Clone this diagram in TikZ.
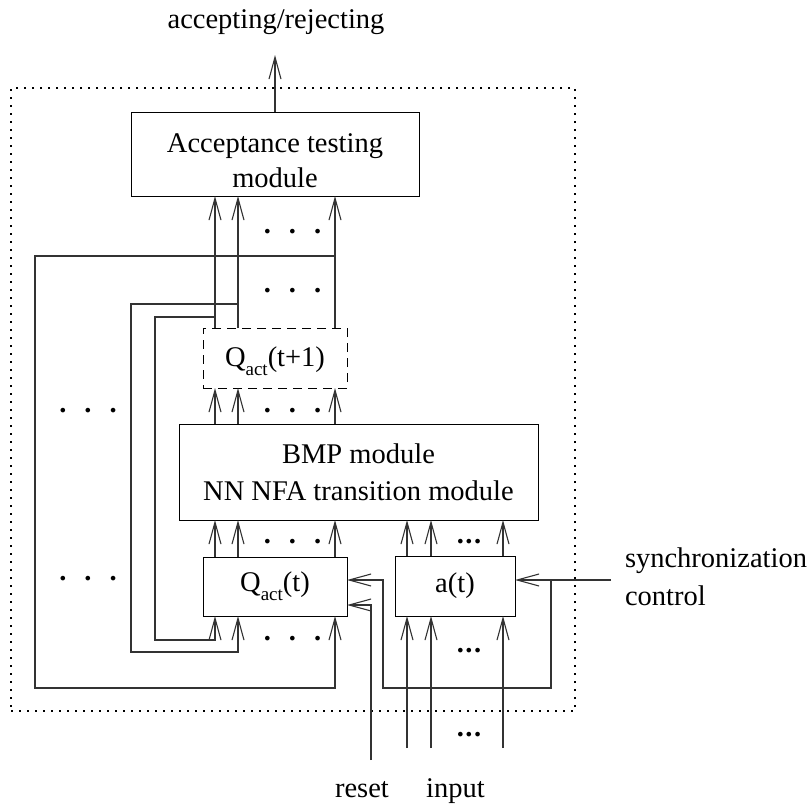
\documentclass[tikz,border=0pt]{standalone}
\usepackage{fontspec}
\setmainfont{Liberation Serif}
\usetikzlibrary{arrows.meta}
\newcommand{\spdots}{\bfseries.\hspace{18pt}.\hspace{18pt}.}
\newcommand{\cpdots}{\bfseries.\hspace{1.5pt}.\hspace{1.5pt}.}
\newcommand{\qact}{Q\raisebox{-9pt}{\fontsize{19}{19}\selectfont act}}
\begin{document}
\begin{tikzpicture}[x=1pt,y=-1pt,
  every node/.style={inner sep=0pt, outer sep=0pt, font=\fontsize{28.5}{35}\selectfont},
  box/.style={draw, line width=1pt, align=center},
  arr/.style={-{Straight Barb[length=22pt,width=12pt]}, line width=1.1pt, draw=black!80},
  dotsl/.style={anchor=base},
  frm/.style={draw, line width=1.1pt, dash pattern=on 1.6pt off 6.4pt}
]
\useasboundingbox (0,0) rectangle (812,807);

% frame
\node[frm, minimum width=564pt, minimum height=623pt] (frame) at (293,399.5) {};

% boxes
\node[box, minimum width=288pt, minimum height=84pt] (acc) at (275,154) {\rule{0pt}{33pt}Acceptance testing\\module};
\node[box, dash pattern=on 9pt off 6pt, minimum width=144pt, minimum height=60pt] (qn) at (275,358) {\rule{0pt}{26pt}\qact(t+1)};
\node[box, minimum width=359pt, minimum height=96pt, font=\fontsize{28.5}{37}\selectfont] (bmp) at (358.5,472) {BMP module\\NN NFA transition module};
\node[box, minimum width=144pt, minimum height=59pt] (qt) at (275,586.5) {\qact(t)};
\node[box, minimum width=120pt, minimum height=60pt] (at) at (455,586) {a(t)};

% labels
\node[anchor=base] (accrej) at (276,28) {accepting/rejecting};
\node[anchor=base west] (sync1) at (625,567) {synchronization};
\node[anchor=base west] (sync2) at (625,605) {control};
\node[anchor=base] (reset) at (362,797) {reset};
\node[anchor=base] (input) at (455.5,797) {input};

% column coordinates
\coordinate (k1) at (215,0);
\coordinate (k2) at (238,0);
\coordinate (k3) at (335,0);
\coordinate (out) at (275,55);

% output
\draw[arr] (acc.north) -- (out);

% vertical signal arrows
\foreach \k in {k1,k2,k3} {
  \draw[arr] (qn.north -| \k) -- (acc.south -| \k);
  \draw[arr] (bmp.north -| \k) -- (qn.south -| \k);
  \draw[arr] (qt.north -| \k) -- (bmp.south -| \k);
}

% feedback loops
\coordinate (t1) at (215,317);
\coordinate (t2) at (238,304);
\coordinate (t3) at (335,256);
\coordinate (L1) at (155,640);
\coordinate (L2) at (131,652);
\coordinate (L3) at (35,688);
\draw[arr] (t1) -| (L1) -| (qt.south -| k1);
\draw[arr] (t2) -| (L2) -| (qt.south -| k2);
\draw[arr] (t3) -| (L3) -| (qt.south -| k3);

% inputs
\coordinate (i1) at (407,748);
\coordinate (i2) at (431,748);
\coordinate (i3) at (503,748);
\foreach \i in {i1,i2,i3} {
  \draw[arr] (\i) -- (at.south -| \i);
  \draw[arr] (at.north -| \i) -- (bmp.south -| \i);
}

% synchronization control
\coordinate (sync) at (611,580);
\coordinate (br) at (551,580);
\coordinate (L4) at (383,688);
\draw[arr] (sync) -- (at.east |- sync);
\draw[arr] (br) |- (L4) |- (qt.east |- sync);

% reset
\coordinate (rst) at (371,760);
\coordinate (rsty) at (0,605);
\draw[arr] (rst) |- (qt.east |- rsty);

% dots
\node[dotsl] (d1) at (292.5,233.5) {\spdots};
\node[dotsl] (d2) at (292.5,292.5) {\spdots};
\node[dotsl] (d3) at (292.5,412.5) {\spdots};
\node[dotsl] (d4) at (292.5,543.5) {\spdots};
\node[dotsl] (d5) at (292.5,640.5) {\spdots};
\node[dotsl] (d6) at (88,412.5) {\spdots};
\node[dotsl] (d7) at (88,580.5) {\spdots};
\node[dotsl] (e1) at (469,543.5) {\cpdots};
\node[dotsl] (e2) at (469,652.5) {\cpdots};
\node[dotsl] (e3) at (469,736.5) {\cpdots};
\end{tikzpicture}
\end{document}
